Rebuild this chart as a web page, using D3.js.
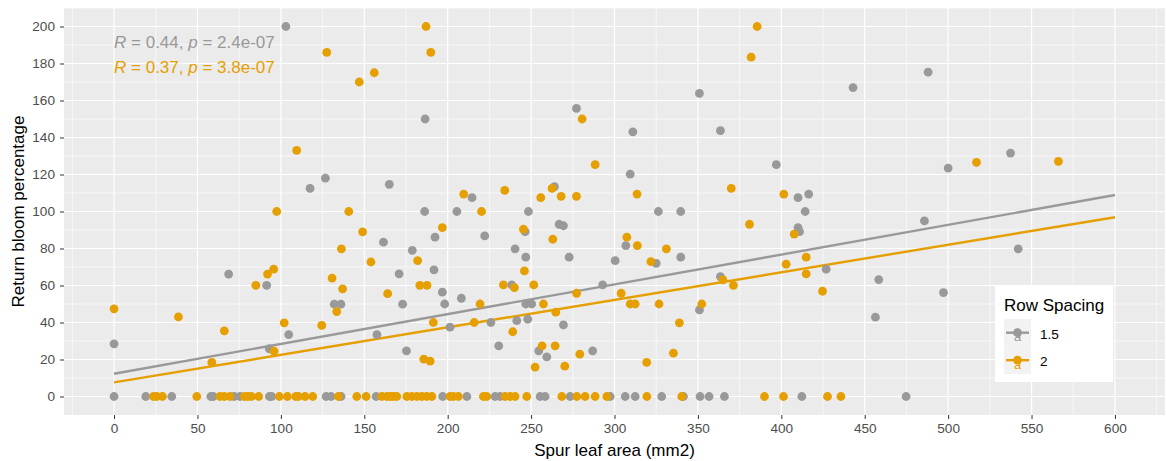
<!DOCTYPE html>
<html>
<head>
<meta charset="utf-8">
<script src="https://cdn.jsdelivr.net/npm/d3@7"></script>
<style>
  body { margin: 0; background: #fff; }
  svg text { font-family: "Liberation Sans", Arial, sans-serif; }
</style>
</head>
<body>
<div id="chart"></div>
<script>
// Row spacing 1.5 : spur leaf area (mm2), return bloom %
const x15 = [0, 68.7, 91.5, 93.1, 103, 104.7, 117.5, 126.7, 132, 136, 157.6, 161.5, 165, 170.9, 173, 175.3, 178.8, 186.2, 186.5, 191.8,
  192.4, 196.8, 198.2, 201.4, 205.5, 208.2, 214.6, 222.2, 225.9, 230.6, 238.4, 240.4, 241.4, 246.4, 246.8, 246.8, 248, 248.4, 250.4, 254.6,
  259.4, 264, 266.8, 269.4, 269.4, 272.8, 277.2, 286.9, 292.9, 300.4, 306.8, 309.4, 311, 325, 326.3, 339.7, 339.7, 350.9, 350.9, 363.5,
  363.5, 397, 410, 410, 410.9, 414.3, 416.4, 426.9, 443, 456.4, 458.4, 485.8, 488, 497.2, 500, 537.4, 542,
  0, 19, 34.6, 58, 59.5, 72, 75.5, 93.1, 94.5, 127.1, 130.1, 136.1, 157.1, 197, 211.5, 228.4, 231.4, 255.4, 258.4, 273.4,
  297.4, 306.4, 312.4, 328.3, 341.3, 351.3, 356.7, 365.9, 412.3, 474.8];
const y15 = [28.5, 66.2, 60.1, 25.8, 200, 33.5, 112.5, 118, 49.9, 49.9, 33.5, 83.4, 114.7, 66.3, 49.9, 24.7, 79, 100, 150, 68.4,
  86.1, 56.4, 50, 37.5, 100, 53.1, 107.5, 86.8, 40, 27.4, 60.3, 79.8, 41, 89.1, 75.3, 50, 41.8, 100, 50, 24.7,
  21.4, 113.4, 93.1, 92.3, 38.7, 75.3, 155.7, 24.7, 60.3, 73.4, 81.6, 120.2, 143, 72, 100, 75.3, 100, 163.8, 46.8, 143.7,
  64.8, 125.3, 107.5, 91.3, 89.1, 100, 109.4, 68.8, 167, 42.9, 63.2, 94.9, 175.3, 56.2, 123.5, 131.6, 79.8,
  0, 0, 0, 0, 0, 0, 0, 0, 0, 0, 0, 0, 0, 0, 0, 0, 0, 0, 0, 0,
  0, 0, 0, 0, 0, 0, 0, 0, 0, 0];

// Row spacing 2
const x2 = [0, 38.6, 58.6, 66.1, 85, 92, 95.7, 95.9, 97.5, 102, 109.5, 124.5, 127.5, 130.7, 133.5, 136.3, 137, 140.7, 147, 149,
  154, 156, 164, 182, 183.3, 185.7, 187, 187.6, 189.5, 189.9, 191.4, 196.8, 209.6, 215.9, 219.4, 220.3, 233.4, 234.2, 239, 240,
  245.4, 246, 251.6, 252.4, 255.8, 256.6, 257.4, 262.6, 263, 264.4, 264.8, 268, 270.2, 277.2, 277.3, 279.2, 280.6, 288.4, 304, 307.4,
  309.4, 312.4, 313.5, 313.7, 319.3, 321.8, 326.7, 331.1, 335.3, 338.9, 352.3, 365, 370, 371.3, 380.9, 381.9, 385.5, 401.5, 402.9, 407.7,
  414.9, 414.9, 424.7, 517, 566.1,
  23.6, 25.6, 29, 49.6, 63.5, 66.1, 69.5, 78.1, 80.1, 82.3, 86.7, 99.1, 103.9, 108.9, 110.5, 114.5, 119.1, 134.5, 145.5, 151.1,
  160.5, 163.5, 165.5, 167.4, 169.5, 175.5, 178.5, 181.5, 184.5, 187.5, 190.5, 201.4, 203.4, 206.4, 221.4, 223.4, 234.4, 237.4, 240.4, 247.4,
  268.4, 277.4, 282.4, 288.4, 295.4, 319.4, 340.3, 389.9, 401.3, 427.7, 435.7];
const y2 = [47.4, 43, 18.4, 35.5, 60.1, 66.2, 68.8, 24.5, 100, 39.8, 133, 38.4, 186, 64, 45.9, 79.8, 58.2, 100, 170, 89,
  72.7, 175, 55.6, 73.5, 60.1, 20.2, 200, 60.1, 19.1, 186, 40, 91.3, 109.4, 40, 50, 100, 60.3, 111.4, 35, 58.9,
  90.4, 67.9, 60.3, 15.9, 107.5, 27.4, 50, 112.5, 85, 27.4, 45.6, 108.2, 16.4, 108.2, 55.8, 22.9, 150, 125.3, 55.8, 86.1,
  50, 50, 109.4, 81.6, 18.4, 72.9, 50, 79.8, 23.4, 39.8, 50, 63, 112.5, 60.1, 93.1, 183.4, 200, 109.4, 71.5, 87.8,
  75.3, 66.3, 56.9, 126.6, 127.1,
  0, 0, 0, 0, 0, 0, 0, 0, 0, 0, 0, 0, 0, 0, 0, 0, 0, 0, 0, 0,
  0, 0, 0, 0, 0, 0, 0, 0, 0, 0, 0, 0, 0, 0, 0, 0, 0, 0, 0, 0,
  0, 0, 0, 0, 0, 0, 0, 0, 0, 0, 0];

// fitted regression lines (read at both ends)
const fitX = [0, 600];
const fit15 = [12.3, 108.9];
const fit2 = [7.6, 96.9];

const groups = ['1.5', '2'];
const colors = ['#999999', '#E69F00'];
const corLabels = [['0.44', '2.4e-07'], ['0.37', '3.8e-07']];
const xTicks = d3.range(0, 601, 50);
const yTicks = d3.range(0, 201, 20);

const W = 1166, H = 461;
const pLeft = 64, pRight = 1165, pTop = 8, pBottom = 415;
const big = 17, small = 13.6;

const svg = d3.select('#chart').append('svg')
    .attr('width', W)
    .attr('height', H);

const x = d3.scaleLinear().domain([-30, 630]).range([pLeft, pRight]);
const y = d3.scaleLinear().domain([-10, 210]).range([pBottom, pTop]);

// panel
svg.append('rect')
    .attr('x', pLeft).attr('y', pTop)
    .attr('width', pRight - pLeft).attr('height', pBottom - pTop)
    .attr('fill', '#EBEBEB');

const grid = svg.append('g');
grid.selectAll('.vmin')
    .data(d3.range(-25, 630, 50))
    .enter().append('line')
    .attr('x1', d => x(d)).attr('x2', d => x(d))
    .attr('y1', pTop).attr('y2', pBottom)
    .attr('stroke', '#fff').attr('stroke-width', 0.6);
grid.selectAll('.hmin')
    .data(d3.range(-10, 211, 20).filter(d => d > -10))
    .enter().append('line')
    .attr('x1', pLeft).attr('x2', pRight)
    .attr('y1', d => y(d)).attr('y2', d => y(d))
    .attr('stroke', '#fff').attr('stroke-width', 0.6);
grid.selectAll('.vmaj')
    .data(xTicks)
    .enter().append('line')
    .attr('x1', d => x(d)).attr('x2', d => x(d))
    .attr('y1', pTop).attr('y2', pBottom)
    .attr('stroke', '#fff').attr('stroke-width', 1.2);
grid.selectAll('.hmaj')
    .data(yTicks)
    .enter().append('line')
    .attr('x1', pLeft).attr('x2', pRight)
    .attr('y1', d => y(d)).attr('y2', d => y(d))
    .attr('stroke', '#fff').attr('stroke-width', 1.2);

// axes
const xAxis = d3.axisBottom(x).tickValues(xTicks).tickSize(4).tickPadding(4);
const yAxis = d3.axisLeft(y).tickValues(yTicks).tickSize(4).tickPadding(5);

const gx = svg.append('g').attr('transform', `translate(0, ${pBottom})`).call(xAxis);
const gy = svg.append('g').attr('transform', `translate(${pLeft}, 0)`).call(yAxis);
[gx, gy].forEach(g => {
  g.select('.domain').remove();
  g.selectAll('line').attr('stroke', '#333333');
  g.selectAll('text').attr('fill', '#4D4D4D').attr('font-size', small);
});

svg.append('text')
    .text('Spur leaf area (mm2)')
    .attr('x', (pLeft + pRight) / 2)
    .attr('y', 456)
    .attr('text-anchor', 'middle')
    .attr('font-size', big)
    .attr('fill', '#000');

svg.append('text')
    .text('Return bloom percentage')
    .attr('transform', `translate(24, ${(pTop + pBottom) / 2}) rotate(-90)`)
    .attr('text-anchor', 'middle')
    .attr('font-size', big)
    .attr('fill', '#000');

// regression lines
const line = d3.line().x(d => x(d[0])).y(d => y(d[1]));
[fit15, fit2].forEach((f, i) => {
  svg.append('path')
      .datum(fitX.map((v, j) => [v, f[j]]))
      .attr('d', line)
      .attr('fill', 'none')
      .attr('stroke', colors[i])
      .attr('stroke-width', 2.4);
});

// points
[[x15, y15], [x2, y2]].forEach((s, i) => {
  svg.append('g').selectAll('circle')
      .data(s[0].map((v, j) => [v, s[1][j]]))
      .enter().append('circle')
      .attr('cx', d => x(d[0]))
      .attr('cy', d => y(d[1]))
      .attr('r', 4.4)
      .attr('fill', colors[i]);
});

// correlation labels
corLabels.forEach((c, i) => {
  const t = svg.append('text')
      .attr('x', x(0))
      .attr('y', 48 + i * 25)
      .attr('font-size', big)
      .attr('fill', colors[i]);
  t.append('tspan').attr('font-style', 'italic').text('R');
  t.append('tspan').text(` = ${c[0]}, `);
  t.append('tspan').attr('font-style', 'italic').text('p');
  t.append('tspan').text(` = ${c[1]}`);
});

// legend
const legend = svg.append('g').attr('transform', 'translate(995, 286)');
legend.append('rect')
    .attr('width', 118).attr('height', 96)
    .attr('fill', '#fff');
legend.append('text')
    .text('Row Spacing')
    .attr('x', 9).attr('y', 25)
    .attr('font-size', big)
    .attr('fill', '#000');
groups.forEach((g, i) => {
  const k = legend.append('g').attr('transform', `translate(9, ${33 + i * 27.5})`);
  k.append('rect').attr('width', 27).attr('height', 27.5).attr('fill', '#F2F2F2');
  k.append('line')
      .attr('x1', 2).attr('x2', 25)
      .attr('y1', 13.7).attr('y2', 13.7)
      .attr('stroke', colors[i]).attr('stroke-width', 2.4);
  k.append('circle').attr('cx', 13.5).attr('cy', 13.7).attr('r', 4.4).attr('fill', colors[i]);
  k.append('text')
      .text('a')
      .attr('x', 13.5).attr('y', 22)
      .attr('text-anchor', 'middle')
      .attr('font-size', 13)
      .attr('fill', colors[i]);
  k.append('text')
      .text(g)
      .attr('x', 36).attr('y', 15)
      .attr('dy', '0.35em')
      .attr('font-size', small)
      .attr('fill', '#000');
});
</script>
</body>
</html>
